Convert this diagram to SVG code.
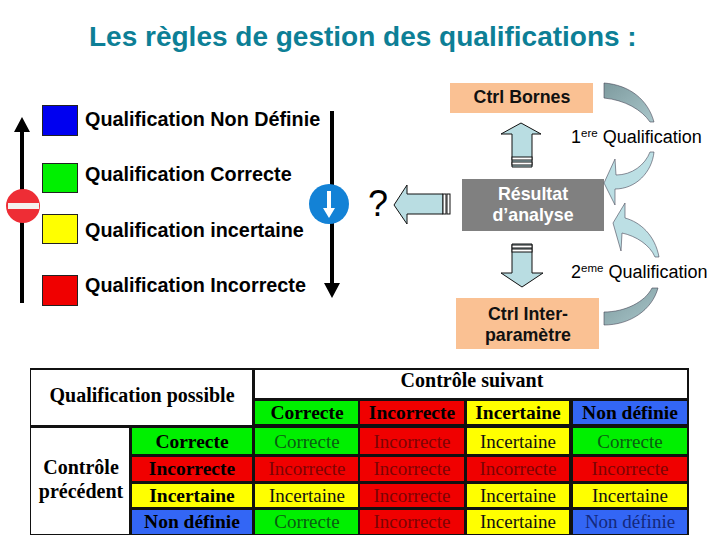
<svg xmlns="http://www.w3.org/2000/svg" width="720" height="540" viewBox="0 0 720 540">
<style>
text{font-family:"Liberation Sans",Arial,sans-serif}
.title{font-size:28px;font-weight:bold;fill:#0d7f96}
.leg{font-size:19.800px;font-weight:bold;fill:#000}
.sw{stroke:#222;stroke-width:1}
.box{font-size:17.800px;font-weight:bold;text-anchor:middle;fill:#111}
.wbox{font-size:17.800px;font-weight:bold;text-anchor:middle;fill:#fff}
.q{font-size:18px;fill:#000}
.sup{font-size:11.500px}
.block{fill:#b9dde2;stroke:#111;stroke-width:1}
.stripe{fill:#fff;stroke:#111;stroke-width:1}
.cg{fill:url(#g1);stroke:#445;stroke-width:.6}
.cl{fill:#bcdfe4;stroke:#445;stroke-width:.6}
.t{font-family:"Liberation Serif","Times New Roman",serif;font-size:19px;text-anchor:middle}
.b{font-weight:bold;font-size:19.500px;fill:#000}
.h{font-size:20px}
.G{fill:#00f000}.R{fill:#f00000}.Y{fill:#ffff00}.B{fill:#3366f5}.W{fill:#fff}
.tg{fill:#0a5c12}.tr{fill:#7c0404}.ty{fill:#111}.tb{fill:#14287a}
</style>
<defs>
<linearGradient id="g1" x1="0" y1="0" x2="1" y2="1"><stop offset="0" stop-color="#7d9a9e"/><stop offset="1" stop-color="#a9c6ca"/></linearGradient>
</defs>
<text class="title" x="89" y="46">Les règles de gestion des qualifications :</text>
<g id="legend">
<rect class="sw" x="42.500" y="105.500" width="35" height="30" fill="#0000f0"/>
<text class="leg" x="85" y="126">Qualification Non Définie</text>
<rect class="sw" x="42.500" y="163.500" width="35" height="29" fill="#00f000"/>
<text class="leg" x="85" y="181">Qualification Correcte</text>
<rect class="sw" x="42.500" y="214.500" width="35" height="29" fill="#ffff00"/>
<text class="leg" x="85" y="237">Qualification incertaine</text>
<rect class="sw" x="42.500" y="275.500" width="35" height="30" fill="#f00000"/>
<text class="leg" x="85" y="292">Qualification Incorrecte</text>
</g>
<g id="axis-up">
<rect x="20" y="130" width="4" height="173" fill="#000"/>
<polygon points="22,117 30,132 14,132" fill="#000"/>
<circle cx="23" cy="206" r="17" fill="#ee2d35"/>
<rect x="8" y="203" width="31" height="6" fill="#f4f0ee"/>
</g>
<g id="axis-down">
<rect x="330" y="111" width="4" height="175" fill="#000"/>
<polygon points="332,298 324,283 340,283" fill="#000"/>
<circle cx="329" cy="204" r="20" fill="#1382d6"/>
<polygon points="327,191 331,191 331,208 335,208 329,218 323,208 327,208" fill="#fff"/>
</g>
<text x="368" y="216" font-size="36" fill="#000">?</text>
<g id="ctrl-bornes">
<rect x="450" y="83" width="143" height="30" fill="#fac193"/>
<text class="box" x="522" y="103">Ctrl Bornes</text>
</g>
<g id="resultat">
<rect x="462" y="179" width="142" height="52" fill="#808080"/>
<text class="wbox" x="533" y="200">Résultat</text>
<text class="wbox" x="533" y="221">d’analyse</text>
</g>
<g id="ctrl-inter">
<rect x="456" y="298" width="143" height="51" fill="#fac193"/>
<text class="box" x="528" y="320">Ctrl Inter-</text>
<text class="box" x="528" y="341">paramètre</text>
</g>
<g id="connectors">
<polygon class="block" points="521,123 541,134 532,134 532,167 512,167 512,134 501,134"/>
<rect class="stripe" x="512" y="157" width="20" height="3"/>
<rect class="stripe" x="512" y="162" width="20" height="3"/>
<polygon class="block" points="522,287 543,273 532,273 532,244 512,244 512,273 501,273"/>
<rect class="stripe" x="512" y="245" width="20" height="3"/>
<rect class="stripe" x="512" y="249" width="20" height="3"/>
<polygon class="block" points="394,205 407,185 407,194 443,194 443,214 407,214 407,224"/>
<rect class="stripe" x="443" y="194" width="3" height="20"/>
<rect class="stripe" x="447" y="194" width="3" height="20"/>
<path class="cg" d="M604,83 C630,85 648,100 654,122 L650,122 C642,110 625,100 604,98 Z"/>
<path class="cl" d="M654,152 C652,172 636,189 615,189 L615,205 L604,183 L615,159 L616,175 C632,175 645,165 650,152 Z"/>
<path class="cl" d="M659,257 C655,235 640,222 625,218 L625,203 L613,223 L621,251 L622,233 C636,236 650,245 655,257 Z"/>
<path class="cg" d="M658,288 C652,310 630,325 604,325 L604,312 C625,312 645,302 652,288 Z"/>
</g>
<g id="labels">
<text class="q" x="571" y="143">1<tspan class="sup" dy="-6">ere</tspan><tspan dy="6"> Qualification</tspan></text>
<text class="q" x="571" y="278">2<tspan class="sup" dy="-6">eme</tspan><tspan dy="6"> Qualification</tspan></text>
</g>
<g id="table">
<rect x="30" y="368" width="659" height="167" fill="#111"/>
<rect class="W" x="31" y="370" width="221" height="55"/>
<rect class="W" x="255" y="370" width="432" height="28"/>
<rect class="W" x="31" y="428" width="98" height="106"/>
<rect class="G" x="255" y="401" width="103" height="23"/>
<rect class="R" x="360" y="401" width="104" height="23"/>
<rect class="Y" x="467" y="401" width="102" height="23"/>
<rect class="B" x="573" y="401" width="114" height="23"/>
<rect class="G" x="132" y="428" width="120" height="26"/>
<rect class="R" x="132" y="457" width="120" height="24"/>
<rect class="Y" x="132" y="484" width="120" height="23"/>
<rect class="B" x="132" y="510" width="120" height="24"/>
<rect class="G" x="255" y="428" width="103" height="26"/>
<rect class="R" x="360" y="428" width="104" height="26"/>
<rect class="Y" x="467" y="428" width="102" height="26"/>
<rect class="G" x="573" y="428" width="114" height="26"/>
<rect class="R" x="255" y="457" width="103" height="24"/>
<rect class="R" x="360" y="457" width="104" height="24"/>
<rect class="R" x="467" y="457" width="102" height="24"/>
<rect class="R" x="573" y="457" width="114" height="24"/>
<rect class="Y" x="255" y="484" width="103" height="23"/>
<rect class="R" x="360" y="484" width="104" height="23"/>
<rect class="Y" x="467" y="484" width="102" height="23"/>
<rect class="Y" x="573" y="484" width="114" height="23"/>
<rect class="G" x="255" y="510" width="103" height="24"/>
<rect class="R" x="360" y="510" width="104" height="24"/>
<rect class="Y" x="467" y="510" width="102" height="24"/>
<rect class="B" x="573" y="510" width="114" height="24"/>
<text class="t b h" x="142" y="402">Qualification possible</text>
<text class="t b h" x="472" y="387">Contrôle suivant</text>
<text class="t b h" x="81" y="474">Contrôle</text>
<text class="t b h" x="81" y="498">précédent</text>
<text class="t b" x="307" y="419">Correcte</text>
<text class="t b" x="412" y="419">Incorrecte</text>
<text class="t b" x="518" y="419">Incertaine</text>
<text class="t b" x="630" y="419">Non définie</text>
<text class="t b" x="192" y="448">Correcte</text>
<text class="t b" x="192" y="475">Incorrecte</text>
<text class="t b" x="192" y="502">Incertaine</text>
<text class="t b" x="192" y="528">Non définie</text>
<text class="t tg" x="307" y="448">Correcte</text>
<text class="t tr" x="412" y="448">Incorrecte</text>
<text class="t ty" x="518" y="448">Incertaine</text>
<text class="t tg" x="630" y="448">Correcte</text>
<text class="t tr" x="307" y="475">Incorrecte</text>
<text class="t tr" x="412" y="475">Incorrecte</text>
<text class="t tr" x="518" y="475">Incorrecte</text>
<text class="t tr" x="630" y="475">Incorrecte</text>
<text class="t ty" x="307" y="502">Incertaine</text>
<text class="t tr" x="412" y="502">Incorrecte</text>
<text class="t ty" x="518" y="502">Incertaine</text>
<text class="t ty" x="630" y="502">Incertaine</text>
<text class="t tg" x="307" y="528">Correcte</text>
<text class="t tr" x="412" y="528">Incorrecte</text>
<text class="t ty" x="518" y="528">Incertaine</text>
<text class="t tb" x="630" y="528">Non définie</text>
</g>
</svg>
